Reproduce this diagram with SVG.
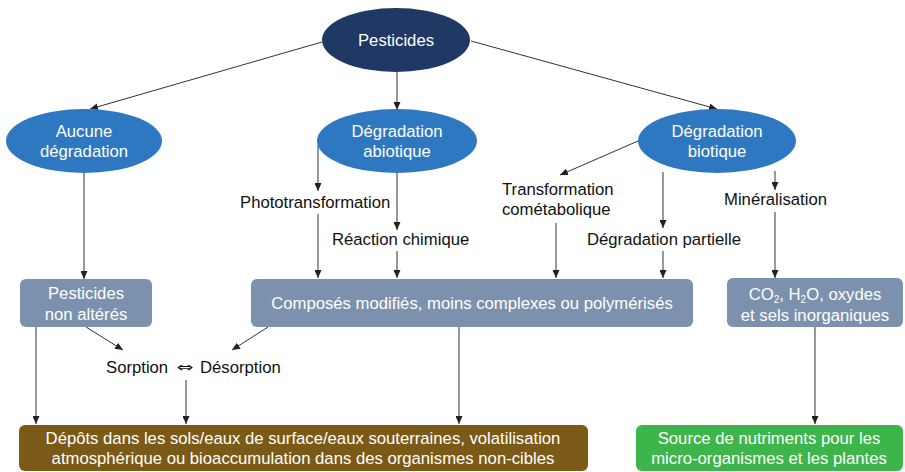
<svg xmlns="http://www.w3.org/2000/svg" width="905" height="472" viewBox="0 0 905 472">
<defs>
<marker id="ah" markerUnits="userSpaceOnUse" markerWidth="8" markerHeight="7" refX="8" refY="3.5" orient="auto">
<path d="M0,0 L8,3.5 L0,7 z" fill="#222"/>
</marker>
<style>
text{font-family:"Liberation Sans",Arial,Helvetica,sans-serif;font-size:16.7px}
.w{fill:#fff;text-anchor:middle}
.b{fill:#111}
.c line{stroke:#333;stroke-width:1;marker-end:url(#ah)}
.top{fill:#1f3864}
.el{fill:#2e78c1}
.bx{fill:#7c91ad}
</style>
</defs>
<rect width="905" height="472" fill="#fff"/>
<g class="c" id="connectors">
<line x1="322" y1="42" x2="90" y2="109"/>
<line x1="397" y1="72" x2="397" y2="110"/>
<line x1="471" y1="41" x2="717" y2="109"/>
<line x1="84" y1="173" x2="84" y2="279"/>
<line x1="318" y1="145" x2="318" y2="191"/>
<line x1="318" y1="214" x2="318" y2="278"/>
<line x1="397" y1="173" x2="397" y2="230"/>
<line x1="397" y1="251" x2="397" y2="278"/>
<line x1="638" y1="141" x2="560" y2="175"/>
<line x1="556" y1="223" x2="556" y2="278"/>
<line x1="663" y1="172" x2="663" y2="228"/>
<line x1="663" y1="251" x2="663" y2="278"/>
<line x1="775" y1="171" x2="775" y2="190"/>
<line x1="775" y1="212" x2="775" y2="278"/>
<line x1="86" y1="327" x2="123" y2="350"/>
<line x1="268" y1="327" x2="232" y2="350"/>
<line x1="36" y1="327" x2="36" y2="424"/>
<line x1="186" y1="380" x2="186" y2="424"/>
<line x1="459" y1="327" x2="459" y2="424"/>
<line x1="815" y1="327" x2="815" y2="424"/>
</g>
<g id="pesticides">
<ellipse class="top" cx="396" cy="40" rx="74" ry="32"/>
<text class="w" x="396" y="46">Pesticides</text>
</g>
<g id="aucune">
<ellipse class="el" cx="84" cy="141" rx="78" ry="32"/>
<text class="w" x="84" y="137">Aucune</text>
<text class="w" x="84" y="157">dégradation</text>
</g>
<g id="abiotique">
<ellipse class="el" cx="397" cy="141" rx="80" ry="32"/>
<text class="w" x="397" y="137">Dégradation</text>
<text class="w" x="397" y="157">abiotique</text>
</g>
<g id="biotique">
<ellipse class="el" cx="717" cy="141" rx="79" ry="32"/>
<text class="w" x="717" y="137">Dégradation</text>
<text class="w" x="717" y="157">biotique</text>
</g>
<g id="labels">
<text class="b" x="240" y="208">Phototransformation</text>
<text class="b" x="332" y="245">Réaction chimique</text>
<text class="b" x="502" y="195">Transformation</text>
<text class="b" x="502" y="215">cométabolique</text>
<text class="b" x="587" y="245">Dégradation partielle</text>
<text class="b" x="724" y="205">Minéralisation</text>
</g>
<g id="non-alteres">
<rect class="bx" x="20" y="279" width="132" height="48" rx="6"/>
<text class="w" x="86" y="299">Pesticides</text>
<text class="w" x="86" y="320">non altérés</text>
</g>
<g id="composes">
<rect class="bx" x="251" y="279" width="442" height="48" rx="6"/>
<text class="w" x="472" y="309">Composés modifiés, moins complexes ou polymérisés</text>
</g>
<g id="co2">
<rect class="bx" x="727" y="278" width="176" height="49" rx="6"/>
<text class="w" x="815" y="300">CO<tspan font-size="10" dy="3">2</tspan><tspan dy="-3">, H</tspan><tspan font-size="10" dy="3">2</tspan><tspan dy="-3">O, oxydes</tspan></text>
<text class="w" x="815" y="321">et sels inorganiques</text>
</g>
<g id="sorption">
<text class="b" x="106" y="373">Sorption</text>
<text class="b" transform="translate(176.5,372) scale(1.45,1)" style="font-family:'DejaVu Sans',sans-serif;font-size:14px">⇔</text>
<text class="b" x="200" y="373">Désorption</text>
</g>
<g id="depots">
<rect x="19" y="425" width="569" height="46" rx="6" fill="#7b5a17"/>
<text class="w" x="303" y="444">Dépôts dans les sols/eaux de surface/eaux souterraines, volatilisation</text>
<text class="w" x="303" y="464">atmosphérique ou bioaccumulation dans des organismes non-cibles</text>
</g>
<g id="source">
<rect x="636" y="425" width="267" height="46" rx="6" fill="#3db54a"/>
<text class="w" x="769" y="444">Source de nutriments pour les</text>
<text class="w" x="769" y="464">micro-organismes et les plantes</text>
</g>
</svg>
